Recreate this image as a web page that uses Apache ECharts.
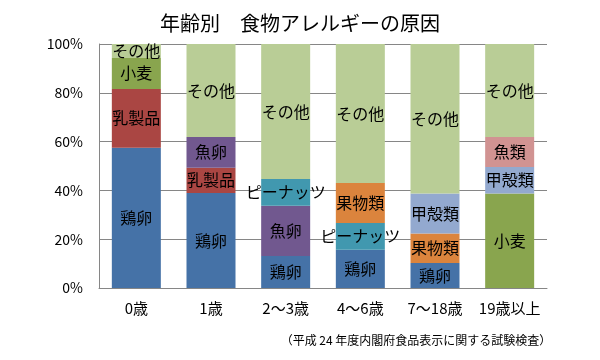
<!DOCTYPE html>
<html><head><meta charset="utf-8">
<script src="https://cdn.jsdelivr.net/npm/echarts@6/dist/echarts.min.js"></script>
<style>html,body{margin:0;padding:0;background:#fff}#c{width:600px;height:360px}</style>
</head><body><div id="c"></div>
<script>
const categories = ['0歳', '1歳', '2～3歳', '4～6歳', '7～18歳', '19歳以上'];
const seriesNames = ['鶏卵', '乳製品', '小麦', '魚卵', 'ピーナッツ', '果物類', '甲殻類', '魚類', 'その他'];
const eggs      = [57.5, 38.9, 13.1, 15.7, 10.2, 0];
const dairy     = [24.1, 10.4, 0, 0, 0, 0];
const wheat     = [12.7, 0, 0, 0, 0, 38.7];
const fishRoe   = [0, 12.6, 20.6, 0, 0, 0];
const peanuts   = [0, 0, 11.0, 10.9, 0, 0];
const fruits    = [0, 0, 0, 16.4, 12.1, 0];
const shellfish = [0, 0, 0, 0, 16.4, 10.9];
const fish      = [0, 0, 0, 0, 0, 12.3];
const others    = [5.7, 38.1, 55.3, 57.0, 61.3, 38.1];
const yTicks = ['0%', '20%', '40%', '60%', '80%', '100%'];
const colors = ['#4572A7', '#AA4643', '#89A54E', '#71588F', '#4198AF', '#DB843D', '#93A9CF', '#D19392', '#B9CD96'];
const allData = [eggs, dairy, wheat, fishRoe, peanuts, fruits, shellfish, fish, others];

const font = '"Noto Sans CJK JP", sans-serif';
const chart = echarts.init(document.getElementById('c'), null, {renderer: 'canvas'});
chart.setOption({
  animation: false,
  backgroundColor: '#fff',
  title: [{
    text: '年齢別　食物アレルギーの原因',
    left: 'center', top: 8,
    textStyle: {fontFamily: font, fontSize: 20, fontWeight: 'normal', color: '#000'}
  }, {
    text: '（平成 24 年度内閣府食品表示に関する試験検査）',
    left: 411, top: 329, textAlign: 'center',
    textStyle: {fontFamily: font, fontSize: 12, fontWeight: 'normal', color: '#000'}
  }],
  grid: {left: 99, right: 53, top: 44, bottom: 72},
  xAxis: {
    type: 'category', data: categories,
    axisLine: {lineStyle: {color: '#868686'}},
    axisTick: {show: false},
    axisLabel: {fontFamily: font, fontSize: 15, color: '#000', margin: 13, interval: 0, hideOverlap: false}
  },
  yAxis: {
    type: 'value', min: 0, max: 100, interval: 20,
    axisLine: {show: true, lineStyle: {color: '#868686'}},
    axisTick: {show: false},
    splitLine: {lineStyle: {color: '#868686'}},
    axisLabel: {fontFamily: font, fontSize: 14, color: '#000', margin: 16,
      formatter: (v) => yTicks[Math.round(v / 20)]}
  },
  series: seriesNames.map((name, i) => ({
    name, type: 'bar', stack: 'total', barWidth: 49,
    data: allData[i],
    itemStyle: {color: colors[i]},
    label: {
      show: true, position: 'inside', color: '#000',
      fontFamily: font, fontSize: 16,
      formatter: (p) => p.value > 0 ? name : ''
    }
  }))
});
</script></body></html>
